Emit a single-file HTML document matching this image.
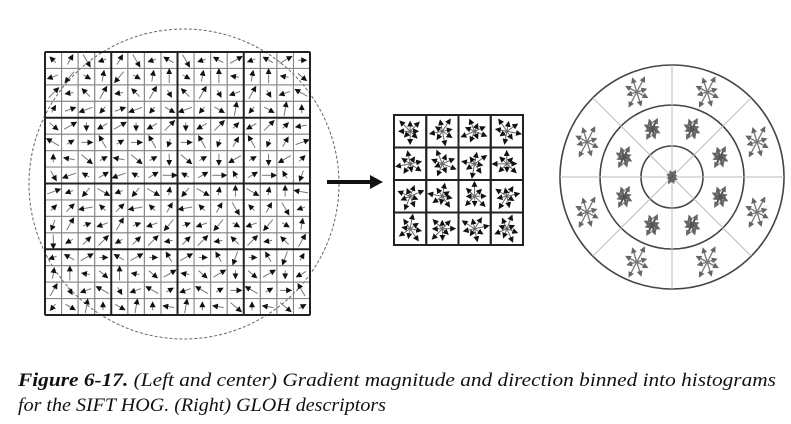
<!DOCTYPE html>
<html><head><meta charset="utf-8"><style>
html,body{margin:0;padding:0;background:#fff;width:791px;height:424px;overflow:hidden}
svg{display:block}
</style></head><body>
<svg id="fig" width="791" height="424" viewBox="0 0 791 424" xmlns="http://www.w3.org/2000/svg">
<defs>
<marker id="ah" markerWidth="6" markerHeight="6" refX="4" refY="3" orient="auto" markerUnits="userSpaceOnUse"><path d="M0,0 L6,3 L0,6 z" fill="#111"/></marker>
<marker id="ahg" markerWidth="6" markerHeight="6" refX="4" refY="3" orient="auto" markerUnits="userSpaceOnUse"><path d="M0,0 L6,3 L0,6 z" fill="#666"/></marker>
</defs>
<circle cx="184" cy="184" r="155" fill="none" stroke="#666" stroke-width="1" stroke-dasharray="3,2"/>
<g id="left"></g>
<g id="arrowg">
<line x1="327" y1="182" x2="372" y2="182" stroke="#111" stroke-width="4"/>
<path d="M370,175 L383,182 L370,189 z" fill="#111"/>
</g>
<g id="center"></g>
<g id="right"></g>
<text x="18" y="386" font-family="Liberation Serif, serif" font-size="19" font-style="italic" fill="#111" textLength="758" lengthAdjust="spacingAndGlyphs"><tspan font-weight="bold">Figure 6-17.</tspan>  (Left and center) Gradient magnitude and direction binned into histograms</text>
<text x="18" y="411" font-family="Liberation Serif, serif" font-size="19" font-style="italic" fill="#111" textLength="368" lengthAdjust="spacingAndGlyphs">for the SIFT HOG. (Right) GLOH descriptors</text>
</svg>
<script>
var NS='http://www.w3.org/2000/svg';
function mk(p,t,a){var e=document.createElementNS(NS,t);for(var k in a)e.setAttribute(k,a[k]);p.appendChild(e);return e;}
var angles=[135,120,80,45,150,200,30,60,250,90,45,30,230,270,300,60,170,190,0,330,210,200,20,320];
var L=document.getElementById('left');
var x0=45,y0=52,W=265,H=263,n=16;
var cw=W/n,ch=H/n;
for(var i=0;i<n;i++)for(var j=0;j<n;j++){
  var r=mk(L,'rect',{x:x0+i*cw,y:y0+j*ch,width:cw,height:ch,fill:'none',stroke:'#888','stroke-width':1});
  
  
  var a=angles[(i*7+j*5+((i>>2)+(j>>2))*3)%angles.length]*Math.PI/180;
  var cx=x0+(i+.5)*cw,cy=y0+(j+.5)*ch,len=3.5+((i+j)%3)*1.5;
  var ln=mk(L,'line',{x1:cx-Math.cos(a)*len,y1:cy+Math.sin(a)*len,x2:cx+Math.cos(a)*len,y2:cy-Math.sin(a)*len,stroke:'#777','stroke-width':1,'marker-end':'url(#ah)'});
  
  
}
for(var k=0;k<=4;k++){
  mk(L,'line',{x1:x0+k*W/4,y1:y0,x2:x0+k*W/4,y2:y0+H,stroke:'#222','stroke-width':2});
  mk(L,'line',{x1:x0,y1:y0+k*H/4,x2:x0+W,y2:y0+k*H/4,stroke:'#222','stroke-width':2});
}
var C=document.getElementById('center');
var cx0=394,cy0=115,CW=129,CH=130;
for(var i=0;i<4;i++)for(var j=0;j<4;j++){
  var r=mk(C,'rect',{x:cx0+i*CW/4,y:cy0+j*CH/4,width:CW/4,height:CH/4,fill:'none',stroke:'#222','stroke-width':2});
  
  
  var mx=cx0+(i+.5)*CW/4,my=cy0+(j+.5)*CH/4;
  for(var b=0;b<8;b++){
    var a=b*Math.PI/4+(i+j)*0.2,len=7+((b*3+i+j*2)%5)*1.6;
    var ln=mk(C,'line',{x1:mx,y1:my,x2:mx+Math.cos(a)*len,y2:my-Math.sin(a)*len,stroke:'#666','stroke-width':1,'marker-end':'url(#ah)'});
    
    
  }
}
var R=document.getElementById('right');
var gx=672,gy=177;
[112,72,31].forEach(function(rr){
  var c=mk(R,'circle',{cx:gx,cy:gy,r:rr,fill:'none',stroke:'#444','stroke-width':1.6});
  
  
});
for(var s=0;s<8;s++){
  var a=s*Math.PI/4;
  var ln=mk(R,'line',{x1:gx,y1:gy,x2:gx+Math.cos(a)*112,y2:gy+Math.sin(a)*112,stroke:'#bbb','stroke-width':1});
  
  
}
function star(x,y,sz,col,w){
  for(var b=0;b<8;b++){
    var a=b*Math.PI/4+0.3,len=sz*(0.6+((b*3)%4)*0.15);
    var ln=mk(R,'line',{x1:x,y1:y,x2:x+Math.cos(a)*len,y2:y-Math.sin(a)*len,stroke:col,'stroke-width':w,'marker-end':'url(#ahg)'});
    
    
  }
}
star(gx,gy,6,'#555',2);
for(var s=0;s<8;s++){
  var a=(s+.5)*Math.PI/4;
  star(gx+Math.cos(a)*52,gy+Math.sin(a)*52,10,'#555',2);
  star(gx+Math.cos(a)*92,gy+Math.sin(a)*92,15,'#777',1.3);
}
</script>
</body></html>
